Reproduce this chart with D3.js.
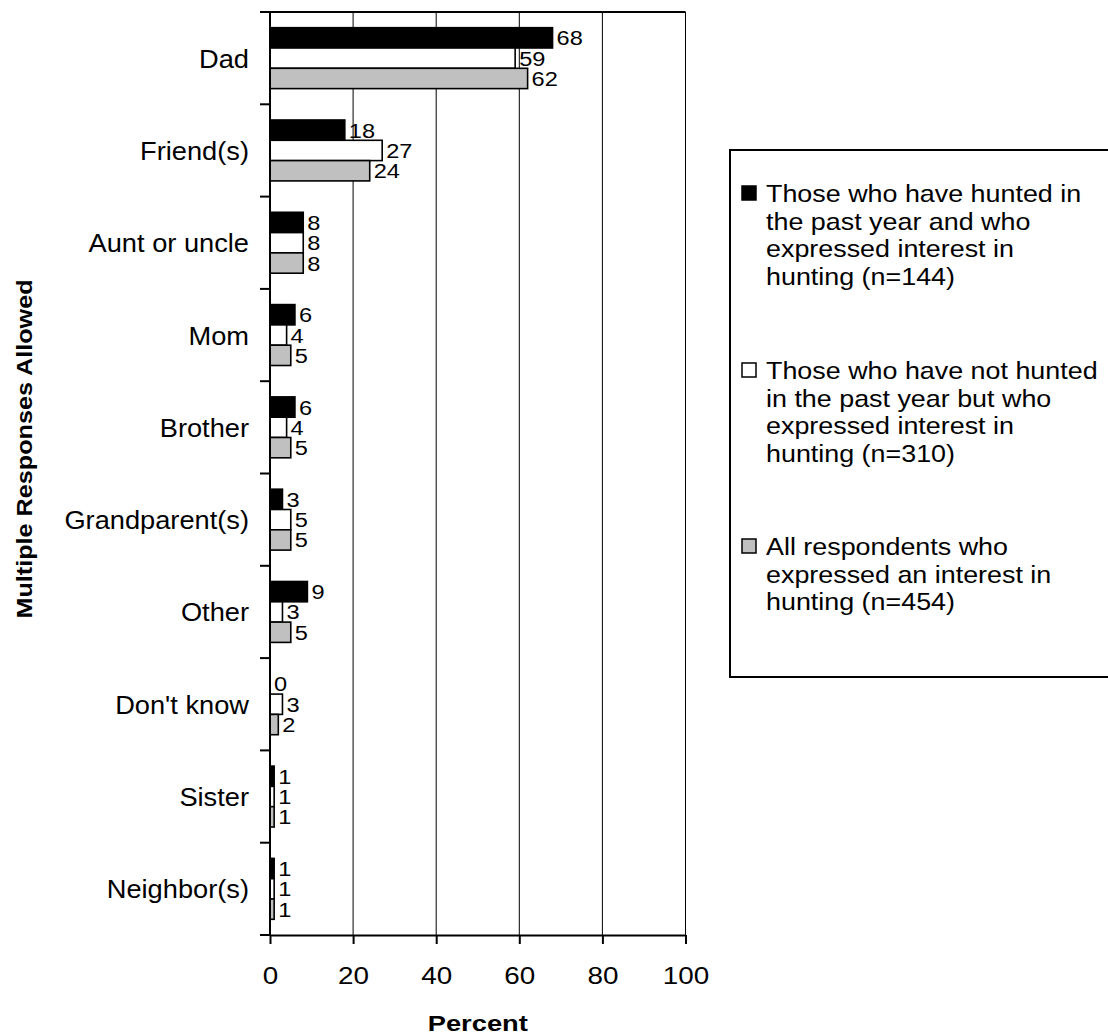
<!DOCTYPE html>
<html>
<head>
<meta charset="utf-8">
<script src="https://cdn.jsdelivr.net/npm/d3@7"></script>
<style>
  html, body { margin: 0; padding: 0; background: #fff; }
  svg { display: block; font-family: Arial, "Liberation Sans", Helvetica, sans-serif; }
</style>
</head>
<body>
<svg id="chart" width="1108" height="1034"></svg>
<script>
// Who introduced respondents to hunting (percent, multiple responses allowed)
const categories = ["Dad", "Friend(s)", "Aunt or uncle", "Mom", "Brother",
  "Grandparent(s)", "Other", "Don't know", "Sister", "Neighbor(s)"];

const seriesKeys = ["huntedPastYear", "notHuntedPastYear", "allRespondents"];

const huntedPastYear    = [68, 18, 8, 6, 6, 3, 9, 0, 1, 1];
const notHuntedPastYear = [59, 27, 8, 4, 4, 5, 3, 3, 1, 1];
const allRespondents    = [62, 24, 8, 5, 5, 5, 5, 2, 1, 1];

const seriesColors = ["#000000", "#ffffff", "#c0c0c0"];

const legendLines = [
  ["Those who have hunted in", "the past year and who", "expressed interest in", "hunting (n=144)"],
  ["Those who have not hunted", "in the past year but who", "expressed interest in", "hunting (n=310)"],
  ["All respondents who", "expressed an interest in", "hunting (n=454)"]
];

const xTicks = [0, 20, 40, 60, 80, 100];
const xTitle = "Percent";
const yTitle = "Multiple Responses Allowed";

const seriesValues = [huntedPastYear, notHuntedPastYear, allRespondents];
const rows = categories.map((c, i) => ({
  category: c,
  values: seriesKeys.map((k, j) => ({ key: k, value: seriesValues[j][i], color: seriesColors[j] }))
}));

const svg = d3.select("#chart");
const plot = { left: 270, right: 685.5, top: 12, bottom: 935 };

const x = d3.scaleLinear().domain([0, 100]).range([plot.left, plot.right]);
const y = d3.scaleBand().domain(categories).range([plot.top, plot.bottom])
  .paddingInner(0.34).paddingOuter(0.17);
const ySub = d3.scaleBand().domain(seriesKeys).range([0, y.bandwidth()]);

// vertical gridlines
svg.append("g").selectAll("line")
  .data(xTicks.filter(t => t > 0))
  .join("line")
  .attr("x1", d => x(d)).attr("x2", d => x(d))
  .attr("y1", plot.top).attr("y2", plot.bottom)
  .attr("stroke", "#000").attr("stroke-width", 1);

// top frame line
svg.append("line")
  .attr("x1", plot.left).attr("x2", plot.right)
  .attr("y1", plot.top).attr("y2", plot.top)
  .attr("stroke", "#000").attr("stroke-width", 2);

// bars
const groups = svg.append("g").selectAll("g")
  .data(rows).join("g")
  .attr("transform", d => `translate(0,${y(d.category)})`);

groups.selectAll("rect")
  .data(d => d.values.filter(v => v.value > 0))
  .join("rect")
  .attr("x", x(0))
  .attr("y", d => ySub(d.key))
  .attr("width", d => x(d.value) - x(0))
  .attr("height", ySub.bandwidth())
  .attr("fill", d => d.color)
  .attr("stroke", "#000")
  .attr("stroke-width", 1.6);

// value labels
groups.selectAll("text")
  .data(d => d.values)
  .join("text")
  .attr("transform", d => `translate(${x(d.value) + 4},${ySub(d.key) + ySub.bandwidth() / 2 + 7.5}) scale(1.15,1)`)
  .attr("font-size", 20.5)
  .attr("fill", "#000")
  .text(d => d.value);

// category axis (left)
const half = (y.step() - y.bandwidth()) / 2;
const boundaries = categories.map(c => y(c) - half).concat([plot.bottom]);
svg.append("line")
  .attr("x1", plot.left).attr("x2", plot.left)
  .attr("y1", plot.top).attr("y2", plot.bottom)
  .attr("stroke", "#000").attr("stroke-width", 2);
svg.append("g").selectAll("line")
  .data(boundaries).join("line")
  .attr("x1", plot.left - 10).attr("x2", plot.left)
  .attr("y1", d => d).attr("y2", d => d)
  .attr("stroke", "#000").attr("stroke-width", 2);

svg.append("g").selectAll("text")
  .data(categories).join("text")
  .attr("transform", d => `translate(249,${y(d) + y.bandwidth() / 2 + 9.5}) scale(1.09,1)`)
  .attr("text-anchor", "end")
  .attr("font-size", 25)
  .attr("fill", "#000")
  .text(d => d);

// value axis (bottom)
const xAxis = svg.append("g")
  .attr("transform", `translate(0,${plot.bottom})`)
  .call(d3.axisBottom(x).tickValues(xTicks).tickSize(9).tickSizeOuter(0).tickFormat(d3.format("d")));
xAxis.select(".domain").attr("stroke", "#000").attr("stroke-width", 2);
xAxis.selectAll(".tick line").attr("stroke", "#000").attr("stroke-width", 2);
xAxis.selectAll(".tick text")
  .attr("y", 49).attr("dy", null)
  .attr("transform", "scale(1.16,1)")
  .attr("font-size", 24)
  .attr("font-family", "Arial, 'Liberation Sans', sans-serif")
  .attr("fill", "#000");

// axis titles
svg.append("text")
  .attr("transform", `translate(${(plot.left + plot.right) / 2},1031) scale(1.27,1)`)
  .attr("text-anchor", "middle")
  .attr("font-size", 21.5)
  .attr("font-weight", "bold")
  .text(xTitle);

svg.append("text")
  .attr("transform", "translate(32,449) rotate(-90) scale(1.12,1)")
  .attr("text-anchor", "middle")
  .attr("font-size", 22.5)
  .attr("font-weight", "bold")
  .text(yTitle);

// legend
const legend = svg.append("g");
legend.append("rect")
  .attr("x", 730).attr("y", 150)
  .attr("width", 400).attr("height", 527)
  .attr("fill", "#fff").attr("stroke", "#000").attr("stroke-width", 2);

const firstBaselines = [202, 379, 555];
const lineGap = 27.5;
const items = legend.selectAll("g.item")
  .data(legendLines).join("g")
  .attr("class", "item")
  .attr("transform", (d, i) => `translate(0,${firstBaselines[i]})`);

items.append("rect")
  .attr("x", 742).attr("y", -16)
  .attr("width", 14).attr("height", 14)
  .attr("fill", (d, i) => seriesColors[i])
  .attr("stroke", "#000").attr("stroke-width", 1.5);

items.selectAll("text")
  .data(d => d).join("text")
  .attr("transform", (d, i) => `translate(766,${i * lineGap}) scale(1.12,1)`)
  .attr("font-size", 24)
  .attr("fill", "#000")
  .text(d => d);
</script>
</body>
</html>
